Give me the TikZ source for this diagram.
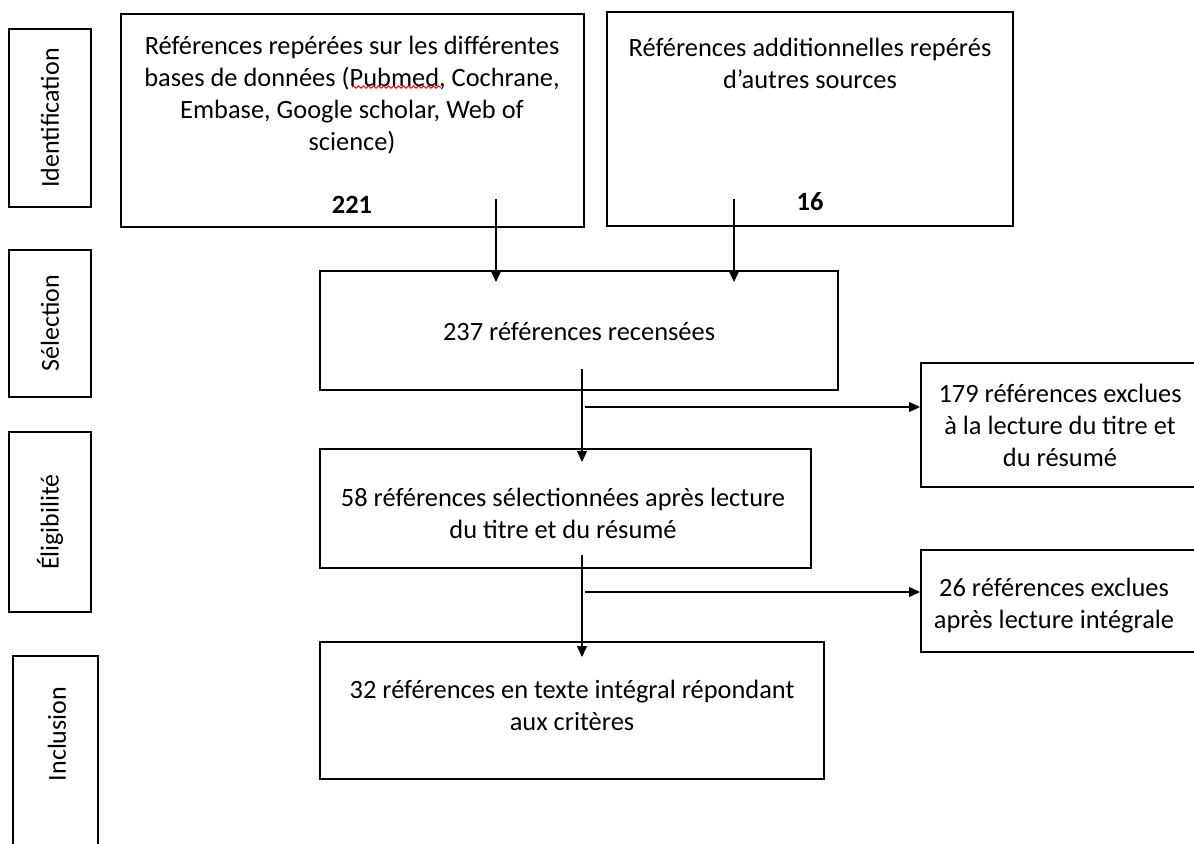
\documentclass[tikz,border=0pt]{standalone}
\usepackage{fontspec}
\setmainfont{Carlito}
\usetikzlibrary{arrows.meta,decorations.pathmorphing,fit}
\begin{document}
\begin{tikzpicture}[x=0.5pt,y=-0.5pt,
  box/.style={draw, line width=1pt, inner sep=0pt},
  txt/.style={align=center, inner sep=0pt, font=\fontsize{13.2}{16}\selectfont},
  num/.style={inner sep=0pt, font=\fontsize{13.2}{16}\selectfont\bfseries},
  lbl/.style={inner sep=0pt, rotate=90, font=\fontsize{13}{16}\selectfont},
  arr/.style={line width=0.6pt, -{Triangle[length=5.5pt,width=5pt]}}]
\useasboundingbox (0,0) rectangle (1194,843);
\clip (0,0) rectangle (1194,843);

% stage labels
\node[box, fit={(9,29) (91,207)}] (L1) {};
\node[box, fit={(9,250) (91,397)}] (L2) {};
\node[box, fit={(9,432) (91,612)}] (L3) {};
\node[box, fit={(13,656) (98,880)}] (L4) {};
\node[lbl] (L1t) at (50,118) {Identification};
\node[lbl] (L2t) at (50,323) {Sélection};
\node[lbl] (L3t) at (50,522) {Éligibilité};
\node[lbl] (L4t) at (57,734) {Inclusion};

% boxes
\node[box, fit={(121,14) (584,227)}] (A) {};
\node[box, fit={(607,12) (1013,226)}] (B) {};
\node[box, fit={(320,271) (838,390)}] (C) {};
\node[box, fit={(921,363) (1260,487)}] (D) {};
\node[box, fit={(320,449) (811,568)}] (E) {};
\node[box, fit={(921,550) (1260,652)}] (F) {};
\node[box, fit={(320,642) (824,779)}] (G) {};

% texts
\node[txt] (At) at (352,95) {Références repérées sur les différentes\\bases de données (Pubmed, Cochrane,\\Embase, Google scholar, Web of\\science)};
\node[num] (An) at (352,205) {221};
\node[txt] (Bt) at (810,63) {Références additionnelles repérés\\d’autres sources};
\node[num] (Bn) at (810,202) {16};
\node[txt] (Ct) at (579,332) {237 références recensées};
\node[txt] (Dt) at (1060,425) {179 références exclues\\à la lecture du titre et\\du résumé};
\node[txt] (Et) at (563,513) {58 références sélectionnées après lecture\\du titre et du résumé};
\node[txt] (Ft) at (1054,606) {26 références exclues\\après lecture intégrale};
\node[txt] (Gt) at (572,705) {32 références en texte intégral répondant\\aux critères};

% spell-check underline
\coordinate (w1) at (352,87);
\coordinate (w2) at (441,87);
\draw[red, line width=0.5pt, decorate, decoration={snake, amplitude=0.6pt, segment length=2.5pt}] (w1) -- (w2);

% connectors
\coordinate (a1) at (496,199);
\coordinate (a2) at (496,282);
\coordinate (b1) at (734,199);
\coordinate (b2) at (734,282);
\coordinate (c1) at (582,369);
\coordinate (c2) at (582,462);
\coordinate (h1) at (585,407);
\coordinate (e1) at (582,555);
\coordinate (e2) at (582,657);
\coordinate (h2) at (585,592);

\draw[arr] (a1) -- (a2);
\draw[arr] (b1) -- (b2);
\draw[arr] (c1) -- (c2);
\draw[arr] (h1) -- (h1 -| D.west);
\draw[arr] (e1) -- (e2);
\draw[arr] (h2) -- (h2 -| F.west);
\end{tikzpicture}
\end{document}
